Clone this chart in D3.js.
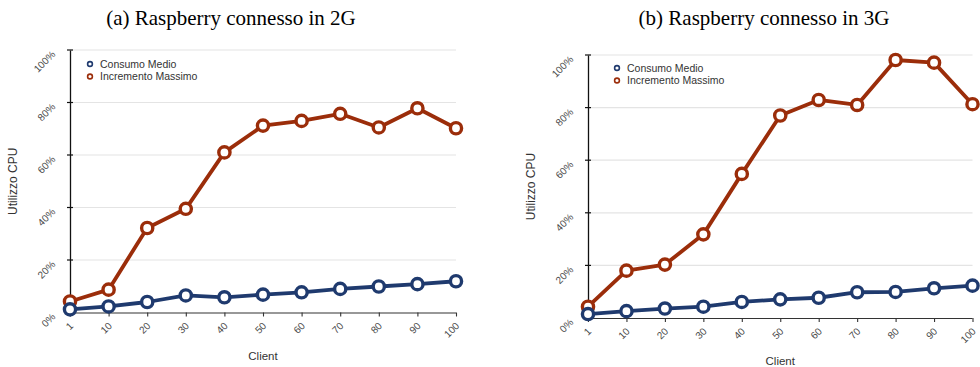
<!DOCTYPE html>
<html>
<head>
<meta charset="utf-8">
<script src="https://cdn.jsdelivr.net/npm/d3@7"></script>
<style>
  html, body { margin: 0; padding: 0; background: #fff; }
  svg { display: block; }
  text { font-family: "Liberation Sans", Arial, Helvetica, sans-serif; }
</style>
</head>
<body>
<svg id="chart" width="980" height="367"></svg>
<script>
// ---- data ----
const clients = ["1", "10", "20", "30", "40", "50", "60", "70", "80", "90", "100"];
const yTickValues = [0, 20, 40, 60, 80, 100];
const seriesNames = ["Consumo Medio", "Incremento Massimo"];
const titles = ["(a) Raspberry connesso in 2G", "(b) Raspberry connesso in 3G"];

const consumo2G    = [1.2, 2.3, 4.0, 6.5, 5.8, 6.8, 7.7, 9.0, 9.9, 10.8, 11.9];
const incremento2G = [4.2, 8.7, 32.2, 39.5, 61.0, 71.2, 73.0, 75.7, 70.5, 77.8, 70.2];
const consumo3G    = [1.5, 2.6, 3.6, 4.3, 6.1, 7.1, 7.7, 9.8, 9.9, 11.3, 12.3];
const incremento3G = [4.3, 18.0, 20.3, 31.8, 54.8, 77.0, 82.9, 81.0, 98.1, 97.1, 81.3];

const colors = ["#1f3a6e", "#9b2d0a"];

const svg = d3.select("#chart");

function drawPanel(opt) {
  const g = svg.append("g");
  const x = d3.scalePoint().domain(clients).range([opt.x0, opt.x1]);
  const y = d3.scaleLinear().domain([0, 100]).range([opt.y0, opt.y1]);

  // title
  svg.append("text")
    .attr("x", opt.titleX).attr("y", 25)
    .attr("text-anchor", "middle")
    .style("font-family", "'Liberation Serif', 'Times New Roman', serif")
    .style("font-size", "21px")
    .attr("fill", "#000")
    .text(opt.title);

  // gridlines
  g.selectAll(".grid").data(yTickValues.filter(v => v > 0)).enter().append("line")
    .attr("x1", opt.x0).attr("x2", opt.x1)
    .attr("y1", d => y(d)).attr("y2", d => y(d))
    .attr("stroke", "#e4e4e4").attr("stroke-width", 1.2);

  // y axis
  const yAxis = d3.axisLeft(y).tickValues(yTickValues).tickSize(0).tickFormat("");
  const ya = g.append("g").attr("transform", `translate(${opt.x0},0)`).call(yAxis);
  ya.select(".domain").attr("stroke", "#111").attr("stroke-width", 1.3);
  g.selectAll(".ytick").data(yTickValues).enter().append("line")
    .attr("x1", opt.x0 - 3).attr("x2", opt.x0 + 3)
    .attr("y1", d => y(d)).attr("y2", d => y(d))
    .attr("stroke", "#111").attr("stroke-width", 1.2);
  g.selectAll(".ylab").data(yTickValues).enter().append("text")
    .attr("transform", d => `translate(${opt.x0 - 14},${y(d) + 5}) rotate(-45)`)
    .attr("text-anchor", "end")
    .style("font-size", "10px")
    .attr("fill", "#4a4a4a")
    .text(d => d + "%");

  // x axis
  const xAxis = d3.axisBottom(x).tickSize(4).tickFormat("");
  const xa = g.append("g").attr("transform", `translate(0,${opt.y0})`).call(xAxis);
  xa.select(".domain").attr("stroke", "#333").attr("stroke-width", 1.2).attr("d", `M${opt.x0},0.5H${opt.x1}`);
  xa.selectAll(".tick line").attr("stroke", "#333").attr("stroke-width", 1.1);
  g.selectAll(".xlab").data(clients).enter().append("text")
    .attr("transform", d => `translate(${x(d) + 4},${opt.y0 + 14}) rotate(-45)`)
    .attr("text-anchor", "end")
    .style("font-size", "10px")
    .attr("fill", "#4a4a4a")
    .text(d => d);

  // axis titles
  g.append("text")
    .attr("transform", `translate(${opt.yLabelX},${(opt.y0 + opt.y1) / 2}) rotate(-90)`)
    .attr("text-anchor", "middle")
    .style("font-size", "12px").attr("fill", "#333")
    .text("Utilizzo CPU");
  g.append("text")
    .attr("x", (opt.x0 + opt.x1) / 2).attr("y", opt.y0 + 47)
    .attr("text-anchor", "middle")
    .style("font-size", "11.5px").attr("fill", "#333")
    .text("Client");

  // series
  const series = [opt.consumo, opt.incremento];
  const line = d3.line().x((d, i) => x(clients[i])).y(d => y(d));
  [1, 0].forEach(si => {
    const vals = series[si];
    g.append("path").datum(vals)
      .attr("d", line)
      .attr("fill", "none")
      .attr("stroke", colors[si])
      .attr("stroke-width", 3.8)
      .attr("stroke-linejoin", "round");
    g.selectAll(".pt" + si).data(vals).enter().append("circle")
      .attr("cx", (d, i) => x(clients[i]))
      .attr("cy", d => y(d))
      .attr("r", 5.6)
      .attr("fill", "#fff")
      .attr("stroke", colors[si])
      .attr("stroke-width", 3.4);
  });

  // legend
  seriesNames.forEach((name, i) => {
    const ly = opt.legendY + i * 12.5;
    g.append("circle").attr("cx", opt.legendX).attr("cy", ly)
      .attr("r", 2.4).attr("fill", "#fff")
      .attr("stroke", colors[i]).attr("stroke-width", 1.6);
    g.append("text").attr("x", opt.legendX + 10).attr("y", ly + 3.7)
      .style("font-size", "10.5px").attr("fill", "#333")
      .text(name);
  });
}

drawPanel({
  title: titles[0], titleX: 231,
  x0: 70, x1: 456, y0: 312.5, y1: 50,
  yLabelX: 17, legendX: 90, legendY: 64,
  consumo: consumo2G, incremento: incremento2G
});
drawPanel({
  title: titles[1], titleX: 764,
  x0: 588, x1: 972.5, y0: 318, y1: 55,
  yLabelX: 535, legendX: 617, legendY: 68,
  consumo: consumo3G, incremento: incremento3G
});
</script>
</body>
</html>
